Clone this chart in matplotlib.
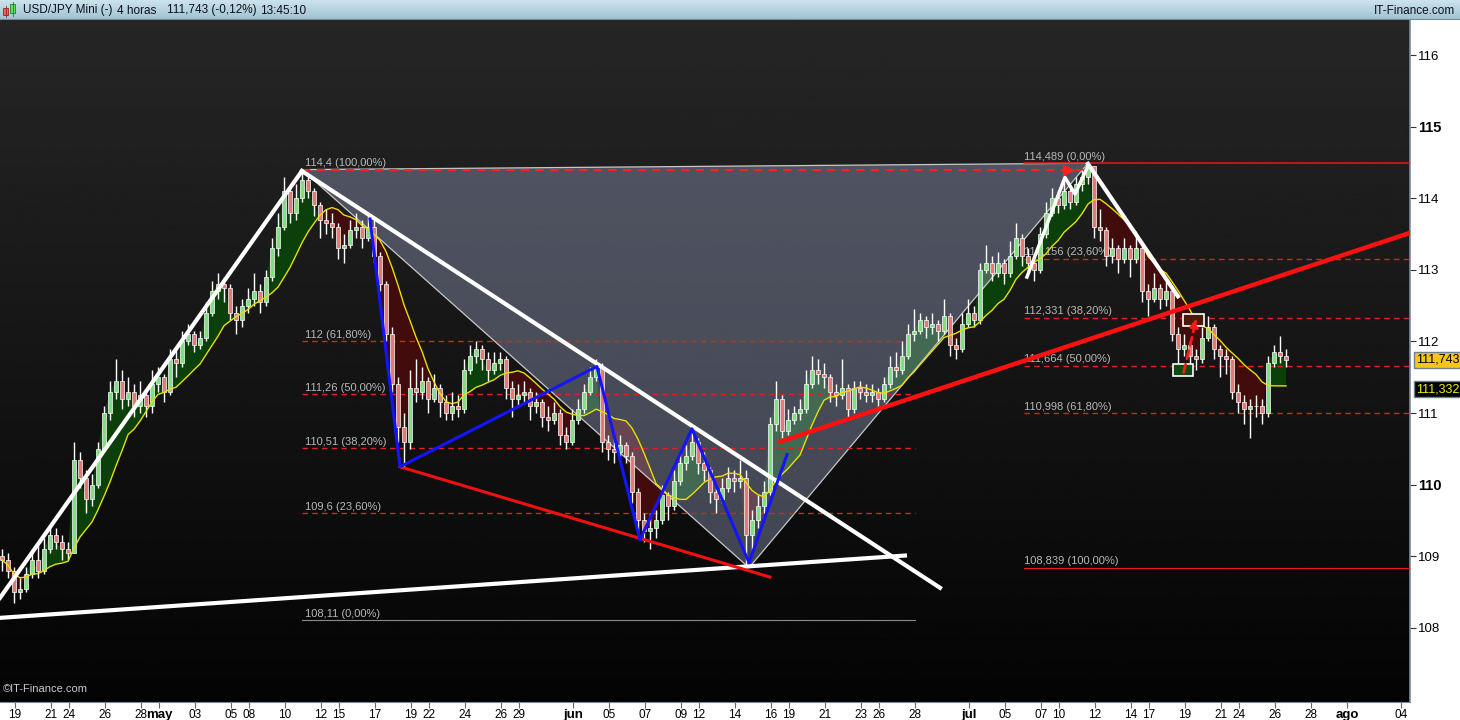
import numpy as np
import pandas as pd
import matplotlib
matplotlib.use('Agg')
import matplotlib.pyplot as plt
from matplotlib.patches import Rectangle, Polygon, FancyArrowPatch

plt.rcParams['font.family'] = ['Liberation Sans', 'DejaVu Sans']

# USD/JPY 4h candles (2 bars per candle, 3 candles per trading day)
closes = [108.95, 108.8, 108.5, 108.55, 108.75, 108.95, 108.8, 109.1, 109.3, 109.2,
          109.1, 109.05, 110.35, 110.1, 109.8, 110.0, 110.5, 111.0, 111.3, 111.45,
          111.2, 111.3, 111.1, 111.25, 111.1, 111.4, 111.5, 111.3, 111.75, 111.7,
          112.0, 112.1, 111.95, 112.05, 112.4, 112.7, 112.8, 112.75, 112.4, 112.3,
          112.5, 112.6, 112.7, 112.55, 112.9, 113.3, 113.6, 114.1, 113.8, 114.0,
          114.25, 114.1, 113.9, 113.7, 113.65, 113.6, 113.3, 113.35, 113.55, 113.6,
          113.45, 113.6, 113.2, 112.8, 112.1, 111.4, 110.8, 110.6, 111.35, 111.3,
          111.45, 111.2, 111.35, 111.15, 111.0, 111.1, 111.05, 111.6, 111.8, 111.9,
          111.75, 111.6, 111.7, 111.75, 111.35, 111.2, 111.25, 111.3, 111.1, 111.15,
          110.95, 110.9, 111.0, 110.7, 110.6, 110.9, 111.05, 111.3, 111.5, 111.65,
          110.6, 110.5, 110.45, 110.55, 110.4, 109.9, 109.5, 109.35, 109.4, 109.5,
          109.85, 109.7, 110.05, 110.3, 110.4, 110.6, 110.3, 110.2, 109.9, 109.8,
          109.95, 110.1, 110.05, 110.1, 109.3, 109.5, 109.7, 109.9, 110.85, 111.2,
          110.75, 110.9, 111.0, 111.05, 111.4, 111.6, 111.55, 111.5, 111.3, 111.25,
          111.35, 111.05, 111.35, 111.3, 111.25, 111.3, 111.2, 111.4, 111.65, 111.6,
          111.8, 112.1, 112.15, 112.3, 112.2, 112.25, 112.15, 112.35, 111.95, 111.9,
          112.25, 112.4, 112.3, 113.0, 113.1, 112.95, 113.1, 112.95, 113.2, 113.45,
          113.2, 113.1, 113.0, 113.5, 113.8, 114.0, 113.9, 114.1, 113.95, 114.2,
          114.3, 114.45, 113.6, 113.55, 113.2, 113.3, 113.15, 113.3, 113.15, 113.3,
          112.7, 112.6, 112.75, 112.6, 112.7, 112.1, 111.9, 111.95, 111.8, 111.75,
          112.05, 112.2, 111.9, 111.8, 111.75, 111.3, 111.15, 111.05, 111.1, 111.1,
          111.0, 111.7, 111.85, 111.8, 111.743]
highs = [109.1, 109.05, 108.85, 108.7, 108.85, 109.05, 109.2, 109.25, 109.45, 109.4,
         109.3, 109.2, 110.6, 110.45, 110.2, 110.15, 110.6, 111.1, 111.45, 111.75,
         111.6, 111.5, 111.4, 111.45, 111.35, 111.6, 111.65, 111.55, 111.9, 111.9,
         112.15, 112.25, 112.15, 112.15, 112.55, 112.85, 112.95, 112.9, 112.8, 112.5,
         112.6, 112.75, 112.95, 112.8, 113.0, 113.45, 113.8, 114.3, 114.15, 114.2,
         114.4, 114.35, 114.15, 113.95, 113.85, 113.8, 113.65, 113.5, 113.7, 113.8,
         113.7, 113.75, 113.7, 113.25, 112.85, 112.2, 111.5, 111.0, 111.6, 111.75,
         111.65, 111.5, 111.55, 111.4, 111.25, 111.3, 111.25, 111.75, 111.95, 112.0,
         111.95, 111.85, 111.85, 111.85, 111.8, 111.45, 111.4, 111.45, 111.35, 111.3,
         111.2, 111.1, 111.15, 111.05, 110.8, 111.05, 111.2, 111.4, 111.65, 111.75,
         111.7, 110.7, 110.65, 110.7, 110.6, 110.45, 109.95, 109.6, 109.6, 109.65,
         110.0, 109.9, 110.2, 110.45, 110.55, 110.8, 110.65, 110.45, 110.25, 109.95,
         110.1, 110.25, 110.2, 110.35, 110.2, 109.65, 109.85, 110.05, 110.95, 111.45,
         111.25, 111.05, 111.1, 111.2, 111.6, 111.8, 111.75, 111.7, 111.55, 111.4,
         111.75, 111.4, 111.45, 111.45, 111.4, 111.4, 111.35, 111.5, 111.8, 111.85,
         112.0, 112.25, 112.45, 112.4, 112.35, 112.4, 112.3, 112.6, 112.4, 112.05,
         112.4, 112.6, 112.5, 113.1, 113.35, 113.2, 113.25, 113.15, 113.4, 113.65,
         113.5, 113.3, 113.2, 113.6, 113.95, 114.15, 114.1, 114.25, 114.15, 114.3,
         114.4, 114.49, 114.45, 113.85, 113.6, 113.45, 113.35, 113.45, 113.35, 113.5,
         113.35, 112.8, 112.95, 112.8, 112.85, 112.75, 112.2, 112.1, 112.0, 111.9,
         112.2, 112.35, 112.25, 111.95, 111.9, 111.8, 111.4, 111.25, 111.2, 111.25,
         111.2, 111.8, 111.95, 112.07, 111.9]
lows = [108.8, 108.7, 108.35, 108.4, 108.5, 108.7, 108.7, 108.75, 109.05, 109.1,
        108.95, 108.95, 109.05, 109.95, 109.6, 109.7, 109.95, 110.45, 110.9, 111.2,
        111.05, 111.1, 110.95, 111.0, 110.95, 111.0, 111.3, 111.15, 111.25, 111.5,
        111.65, 111.95, 111.85, 111.9, 112.0, 112.35, 112.6, 112.55, 112.3, 112.1,
        112.2, 112.4, 112.5, 112.4, 112.5, 112.85, 113.2, 113.55, 113.65, 113.7,
        113.95, 114.0, 113.75, 113.45, 113.5, 113.45, 113.15, 113.1, 113.3, 113.45,
        113.3, 113.4, 113.1, 112.7, 112.0, 111.3, 110.6, 110.25, 110.5, 111.15,
        111.2, 111.0, 111.15, 110.95, 110.9, 110.9, 110.95, 111.0, 111.55, 111.7,
        111.6, 111.45, 111.55, 111.6, 111.2, 110.95, 111.1, 111.15, 110.9, 111.0,
        110.8, 110.75, 110.85, 110.55, 110.5, 110.55, 110.85, 111.0, 111.25, 111.45,
        110.45, 110.35, 110.3, 110.4, 110.3, 109.75, 109.3, 109.2, 109.1, 109.25,
        109.45, 109.5, 109.65, 110.0, 110.2, 110.35, 110.15, 110.05, 109.75, 109.6,
        109.75, 109.9, 109.9, 109.95, 108.84, 109.05, 109.4, 109.6, 109.85, 110.75,
        110.65, 110.7, 110.85, 110.9, 111.0, 111.35, 111.4, 111.35, 111.15, 111.1,
        111.2, 110.95, 111.0, 111.2, 111.15, 111.15, 111.1, 111.15, 111.35, 111.5,
        111.55, 111.75, 112.0, 112.1, 112.05, 112.1, 112.0, 112.1, 111.8, 111.75,
        111.85, 112.2, 112.2, 112.25, 112.95, 112.85, 112.9, 112.8, 112.9, 113.15,
        113.05, 112.95, 112.85, 112.95, 113.45, 113.75, 113.8, 113.85, 113.85, 113.9,
        114.1, 114.2, 113.45, 113.4, 113.05, 113.1, 112.95, 113.1, 112.9, 113.1,
        112.55, 112.35, 112.55, 112.45, 112.5, 112.0, 111.6, 111.8, 111.65, 111.6,
        111.7, 112.0, 111.75, 111.5, 111.55, 111.2, 111.0, 110.85, 110.65, 110.95,
        110.85, 110.95, 111.65, 111.7, 111.65]
first_open = 109.0
first_candle_day = -0.72      # trading days after 19 Apr 2017
candles_per_day = 3

# date axis
start_date = '2017-04-19'
tick_dates = ['2017-04-19', '2017-04-21', '2017-04-24', '2017-04-26', '2017-04-28',
              '2017-05-01', '2017-05-03', '2017-05-05', '2017-05-08', '2017-05-10',
              '2017-05-12', '2017-05-15', '2017-05-17', '2017-05-19', '2017-05-22',
              '2017-05-24', '2017-05-26', '2017-05-29', '2017-06-01', '2017-06-05',
              '2017-06-07', '2017-06-09', '2017-06-12', '2017-06-14', '2017-06-16',
              '2017-06-19', '2017-06-21', '2017-06-23', '2017-06-26', '2017-06-28',
              '2017-07-03', '2017-07-05', '2017-07-07', '2017-07-10', '2017-07-12',
              '2017-07-14', '2017-07-17', '2017-07-19', '2017-07-21', '2017-07-24',
              '2017-07-26', '2017-07-28', '2017-08-01', '2017-08-04']
tick_labels = ['19', '21', '24', '26', '28', 'may', '03', '05', '08', '10',
               '12', '15', '17', '19', '22', '24', '26', '29', 'jun', '05',
               '07', '09', '12', '14', '16', '19', '21', '23', '26', '28',
               'jul', '05', '07', '10', '12', '14', '17', '19', '21', '24',
               '26', '28', 'ago', '04']
month_labels = ['may', 'jun', 'jul', 'ago']
price_ticks = [108, 109, 110, 111, 112, 113, 114, 115, 116]
bold_prices = [110, 115]

# Fibonacci retracements
fib_left_prices = [114.4, 112.0, 111.26, 110.51, 109.6, 108.11]
fib_left_labels = ['114,4 (100,00%)', '112 (61,80%)', '111,26 (50,00%)',
                   '110,51 (38,20%)', '109,6 (23,60%)', '108,11 (0,00%)']
fib_left_span = [15.94, 50.0]
fib_right_prices = [114.489, 113.156, 112.331, 111.664, 110.998, 108.839]
fib_right_labels = ['114,489 (0,00%)', '113,156 (23,60%)', '112,331 (38,20%)',
                    '111,664 (50,00%)', '110,998 (61,80%)', '108,839 (100,00%)']
fib_right_span = [56.06, 78.0]

# drawn objects (day, price)
triangle_days = [15.94, 59.61, 40.78]
triangle_prices = [114.4, 114.489, 108.84]
uptrend_days = [-0.83, 15.94]
uptrend_prices = [108.42, 114.38]
channel_days = [15.94, 51.39]
channel_prices = [114.38, 108.56]
support_days = [-0.83, 49.44]
support_prices = [108.14, 109.01]
lower_red_days = [21.39, 41.94]
lower_red_prices = [110.25, 108.71]
zigzag_days = [19.72, 21.39, 32.33, 34.72, 37.61, 40.78, 42.89]
zigzag_prices = [113.71, 110.25, 111.65, 109.23, 110.78, 108.91, 110.42]
rising_red_days = [42.5, 78.5]
rising_red_prices = [110.6, 113.6]
drop_days = [59.61, 64.61]
drop_prices = [114.48, 112.63]
white_zig_days = [56.22, 58.33, 58.89, 59.61]
white_zig_prices = [112.9, 114.29, 114.06, 114.45]
green_box = [64.33, 111.52, 1.11, 0.16]
red_box = [64.89, 112.22, 1.17, 0.16]
box_arrow = [(64.89, 111.53), (65.67, 112.36)]

last_price = 111.743
ma_price = 111.332

# ---------------------------------------------------------------
close = pd.Series(closes)
opens = close.shift(1).fillna(first_open).values
x = first_candle_day + np.arange(len(closes)) / candles_per_day
fast = close.values
slow = close.rolling(10, min_periods=1).mean().values

fig = plt.figure(figsize=(14.6, 7.2), dpi=100, facecolor='white')

# title bar
bar = fig.add_axes([0, 700 / 720, 1, 20 / 720])
grad = np.linspace(0, 1, 50)[:, None]
top_c = np.array([0.80, 0.89, 0.93])
bot_c = np.array([0.62, 0.76, 0.82])
img = top_c[None, None, :] * (1 - grad[:, :, None]) + bot_c[None, None, :] * grad[:, :, None]
bar.imshow(img, extent=[0, 1460, 20, 0], aspect='auto')
bar.set_xlim(0, 1460)
bar.set_ylim(20, 0)
bar.axis('off')
bar.axhline(19.5, color='#6f8c9c', lw=1.5)
bar.add_patch(Rectangle((3, 8), 5, 7, fc='#e86060', ec='#a02020', lw=0.6))
bar.plot([5.5, 5.5], [6, 17], color='#a02020', lw=0.6)
bar.add_patch(Rectangle((10, 4), 5, 9, fc='#60e060', ec='#208020', lw=0.6))
bar.plot([12.5, 12.5], [2, 16], color='#208020', lw=0.6)
title_font = dict(fontsize=8.5, color='#101018', va='center')
bar.text(23, 10.5, 'USD/JPY Mini (-)', **title_font)
bar.text(117, 10.5, '4 horas', **title_font)
bar.text(167, 10.5, '111,743 (-0,12%)', **title_font)
bar.text(260, 10.5, '13:45:10', **title_font)
bar.text(1455, 10.5, 'IT-Finance.com', ha='right', **title_font)

# main chart
ax = fig.add_axes([0, 18 / 720, 1410 / 1460, 682 / 720])
bg = np.linspace(0.15, 0.015, 256)[:, None]
ax.imshow(bg, cmap='gray', vmin=0, vmax=1, extent=[0, 1, 0, 1],
          transform=ax.transAxes, aspect='auto', zorder=0)

ax.fill_between(x, fast, slow, where=fast >= slow, interpolate=True,
                color='#0b400b', lw=0, zorder=1)
ax.fill_between(x, fast, slow, where=fast < slow, interpolate=True,
                color='#420c0c', lw=0, zorder=1)

ax.add_patch(Polygon(np.column_stack([triangle_days, triangle_prices]), closed=True,
                     fc=(0.72, 0.76, 0.92), alpha=0.32, ec='none', zorder=2))
ax.plot(triangle_days + triangle_days[:1], triangle_prices + triangle_prices[:1],
        color='#c8c8c8', lw=0.9, zorder=3)

dash = (0, (4, 3))
for p, lab in zip(fib_left_prices, fib_left_labels):
    if p == fib_left_prices[-1]:
        ax.plot(fib_left_span, [p, p], color='#8a8a8a', lw=0.8, zorder=3)
    elif p == fib_left_prices[0]:
        ax.plot([fib_left_span[0], triangle_days[1]], [p, p], color='#ff2020', lw=1.5,
                ls=dash, zorder=3)
    else:
        ax.plot(fib_left_span, [p, p], color='#e02020', lw=1, ls=dash, zorder=3)
    ax.text(fib_left_span[0] + 0.15, p + 0.02, lab, color='#b8b8b8', fontsize=8,
            va='bottom', zorder=3)
ax.plot([triangle_days[1] - 1.1], [fib_left_prices[0]], marker='>', color='#ff2020',
        ms=7, zorder=3)

for p, lab in zip(fib_right_prices, fib_right_labels):
    if p in (fib_right_prices[0], fib_right_prices[-1]):
        ax.plot(fib_right_span, [p, p], color='#e81818', lw=1.1 if p > 114 else 0.8, zorder=3)
    else:
        ax.plot(fib_right_span, [p, p], color='#e02020', lw=1, ls=dash, zorder=3)
    ax.text(fib_right_span[0], p + 0.02, lab, color='#b8b8b8', fontsize=8,
            va='bottom', zorder=3)

# candles
up = close.values >= opens
ax.vlines(x, lows, highs, color='white', lw=1, zorder=4)
ax.bar(x, close.values - opens, bottom=opens, width=0.2,
       color=np.where(up, '#7ee07e', '#e87878'), edgecolor='white', lw=0.5, zorder=5)

ax.plot(x, slow, color='#e8e000', lw=1, zorder=6)

# drawings
ax.plot(uptrend_days, uptrend_prices, color='white', lw=3, zorder=7)
ax.plot(channel_days, channel_prices, color='white', lw=3, zorder=7)
ax.plot(support_days, support_prices, color='white', lw=3, zorder=7)
ax.plot(lower_red_days, lower_red_prices, color='#f01010', lw=2.2, zorder=7)
ax.plot(zigzag_days, zigzag_prices, color='#1414ff', lw=2.2, zorder=7)
ax.plot(rising_red_days, rising_red_prices, color='#ff1010', lw=3.2, zorder=7)
ax.plot(drop_days, drop_prices, color='white', lw=3, zorder=7)
ax.plot(white_zig_days, white_zig_prices, color='white', lw=2.5, zorder=7)

ax.add_patch(Rectangle(green_box[:2], green_box[2], green_box[3], fc='#0d4a0d',
                       ec='white', lw=1.2, zorder=8))
ax.add_patch(Rectangle(red_box[:2], red_box[2], red_box[3], fc='#4a1a0a',
                       ec='white', lw=1.2, zorder=8))
ax.add_patch(FancyArrowPatch(box_arrow[0], box_arrow[1], arrowstyle='-|>',
                             mutation_scale=12, color='#ff1a1a', lw=2,
                             ls=(0, (3, 2)), zorder=9))

ax.text(0.002, 0.012, '\u00a9IT-Finance.com', transform=ax.transAxes,
        color='#c8c8c8', fontsize=8, va='bottom', zorder=9)

ax.set_xlim(-0.833, 77.5)
ax.set_ylim(116 - 646 / 71.5, 116 + 35 / 71.5)

# axes cosmetics
for side in ['top', 'left']:
    ax.spines[side].set_visible(False)
ax.spines['right'].set_color('#7a8c9c')
ax.spines['bottom'].set_color('#7a8c9c')
ax.spines['right'].set_linewidth(1.2)

ax.yaxis.tick_right()
ax.set_yticks(price_ticks)
ax.set_yticklabels([str(p) for p in price_ticks])
ax.tick_params(axis='y', direction='out', length=4, color='#333333', labelsize=9.5, pad=2)
for lab, p in zip(ax.get_yticklabels(), price_ticks):
    if p in bold_prices:
        lab.set_fontweight('bold')
        lab.set_fontsize(10.5)

tick_pos = np.busday_count(start_date, tick_dates)
ax.set_xticks(tick_pos)
ax.set_xticklabels(tick_labels)
ax.tick_params(axis='x', direction='out', length=4, color='#666666', labelsize=8.5, pad=1)
for lab in ax.get_xticklabels():
    if lab.get_text() in month_labels:
        lab.set_fontweight('bold')
        lab.set_fontsize(9.5)

ytrans = ax.get_yaxis_transform()
ax.text(1.004, last_price, '111,743', transform=ytrans, fontsize=9, color='black',
        va='center', ha='left', clip_on=False, zorder=10,
        bbox=dict(boxstyle='square,pad=0.15', fc='#f5c518', ec='#708090', lw=1))
ax.text(1.004, ma_price, '111,332', transform=ytrans, fontsize=9, color='#f0f000',
        va='center', ha='left', clip_on=False, zorder=10,
        bbox=dict(boxstyle='square,pad=0.15', fc='black', ec='#708090', lw=1))

fig.savefig('out.png', dpi=100)
